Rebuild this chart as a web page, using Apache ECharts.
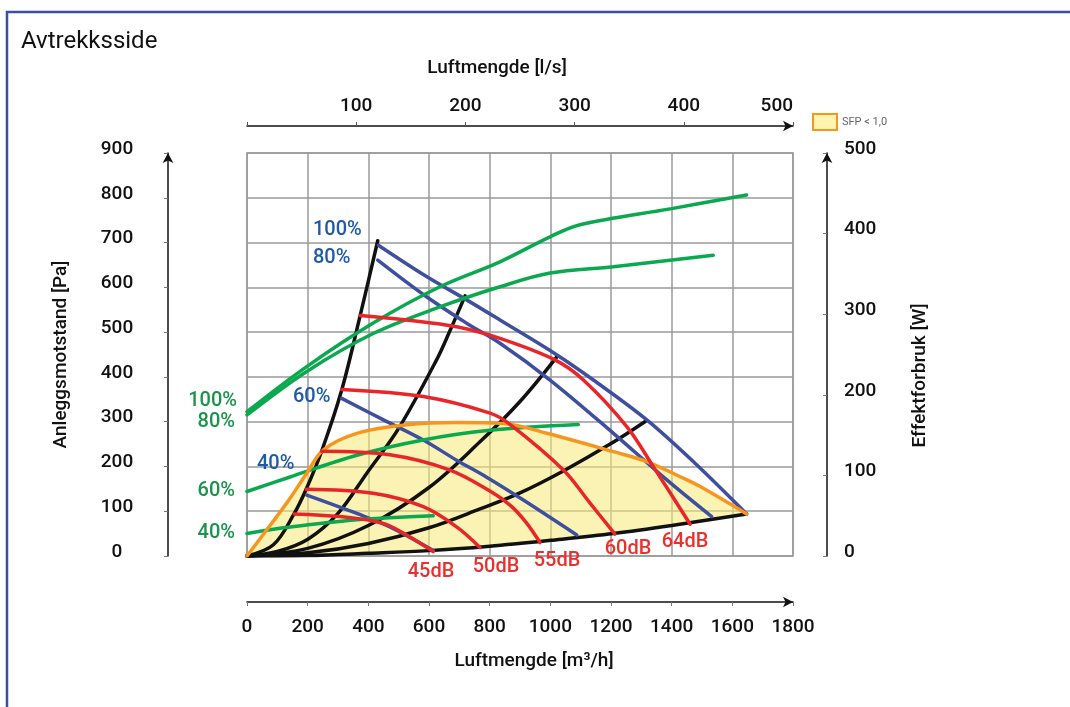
<!DOCTYPE html>
<html>
<head>
<meta charset="utf-8">
<script src="https://cdn.jsdelivr.net/npm/echarts@6/dist/echarts.min.js"></script>
<style>
html,body{margin:0;padding:0;background:#fff;}
#chart{width:1070px;height:707px;}
</style>
</head>
<body>
<div id="chart"></div>
<script>
// ---- Data (x = Luftmengde m³/h, y = Pa or W) ----
const flowTicksM3h = [0, 200, 400, 600, 800, 1000, 1200, 1400, 1600, 1800];
const flowTicksLs = [100, 200, 300, 400, 500];
const pressureTicks = [0, 100, 200, 300, 400, 500, 600, 700, 800, 900];
const powerTicks = [0, 100, 200, 300, 400, 500];

// system curves (black)
const curveA = [[0,0],[87,25],[155,94],[195,149],[246,234],[312,370],[373,537],[431,704]];
const curveB = [[0,0],[100,10],[202,38],[300,95],[395,185],[500,285],[625,438],[669,503],[719,581]];
const curveC = [[0,0],[200,17],[400,68],[600,153],[768,255],[900,345],[1024,447]];
const curveD = [[0,0],[200,7],[400,28],[600,63],[768,105],[900,141],[1043,190],[1200,251],[1314,301]];
const curveE = [[0,0],[200,1],[400,6],[600,12],[800,22],[1000,35],[1208,50],[1400,68],[1647,94]];

// fan curves (blue)
const fan100 = [[433,694],[592,624],[724,572],[834,527],[1022,449],[1142,393],[1318,304],[1471,211],[1647,94]];
const fan80 = [[431,661],[592,579],[724,520],[834,475],[999,393],[1208,274],[1384,170],[1532,88]];
const fan60 = [[312,352],[450,304],[581,259],[691,214],[790,176],[911,125],[1087,47]];
const fan40 = [[197,136],[362,95],[471,65],[614,12]];

// sound level curves (red)
const db64 = [[373,537],[526,527],[691,512],[834,486],[1015,438],[1109,393],[1252,289],[1340,199],[1461,71]];
const db60 = [[312,372],[581,356],[801,319],[867,294],[1043,192],[1131,118],[1213,49]];
const db55 = [[246,234],[471,226],[669,192],[801,145],[870,112],[920,75],[966,30]];
const db50 = [[195,149],[416,140],[581,110],[691,65],[768,19]];
const db45 = [[155,94],[307,88],[449,73],[526,47],[614,10]];

// power consumption (green, W on right axis)
const pw100 = [[0,179],[197,235],[416,289],[636,334],[834,365],[999,396],[1098,411],[1400,431],[1647,448]];
const pw80 = [[0,175],[197,229],[416,276],[636,309],[834,334],[999,351],[1208,359],[1537,373]];
const pw60 = [[0,80],[142,98],[362,125],[581,144],[801,156],[1092,163]];
const pw40 = [[0,28],[142,36],[362,45],[614,50]];

// SFP < 1,0 boundary (orange)
const sfpTop = [[0,0],[98,88],[142,129],[197,185],[252,237],[362,274],[527,293],[691,298],[845,296],[988,274],[1208,233],[1318,211],[1428,177],[1494,155],[1647,94]];

// ---- Styles ----
const FONT = 'Roboto';
const BLACK = '#111111';
const BLUE = '#3e4f9f';
const RED = '#e8262a';
const GREEN = '#0aa84f';
const ORANGE = '#f7961f';
const GRIDC = '#9a9a9a';
const FW = 500;

const sfpPolygon = sfpTop.concat(curveE.slice().reverse());

function lineSeries(name, data, color, yIdx, z) {
  return {
    name: name, type: 'line', data: data, xAxisIndex: 0, yAxisIndex: yIdx || 0,
    smooth: 0.35, showSymbol: false, symbol: 'none', silent: true, z: z || 3,
    lineStyle: { color: color, width: 3.5, cap: 'round' }
  };
}

const chart = echarts.init(document.getElementById('chart'), null, { renderer: 'canvas' });

function txt(text, x, y, color, align) {
  return {
    type: 'text', x: x, y: y, silent: true, z: 100,
    style: { text: text, fill: color, fontSize: 20, fontWeight: FW, fontFamily: FONT, align: align || 'left', verticalAlign: 'middle' }
  };
}

const labelBlue = '#1f5aa8';
const labelGreen = '#1b944c';
const labelRed = '#e8312f';

const option = {
  backgroundColor: '#ffffff',
  animation: false,
  title: {
    text: 'Avtrekksside', left: 21, top: 30, padding: 0,
    textStyle: { fontSize: 24, fontWeight: 'normal', fontFamily: FONT, color: BLACK }
  },
  legend: {
    left: 812, top: 113, padding: 0, itemWidth: 24, itemHeight: 16,
    selectedMode: false,
    textStyle: { fontSize: 11, color: '#666', fontFamily: FONT },
    data: [{ name: 'SFP < 1,0', icon: 'rect', itemStyle: { color: '#fff4b0', borderColor: ORANGE, borderWidth: 2 } }]
  },
  grid: {
    left: 247, top: 153, width: 546, height: 403,
    show: true, borderColor: GRIDC, borderWidth: 1.5, backgroundColor: 'transparent'
  },
  xAxis: [
    {
      type: 'value', gridIndex: 0, position: 'bottom', min: flowTicksM3h[0], max: flowTicksM3h[flowTicksM3h.length - 1], interval: 200,
      offset: 46,
      axisLine: { show: true, onZero: false, lineStyle: { color: BLACK, width: 1.5 }, symbol: ['none', 'arrow'], symbolSize: [8, 10] },
      axisTick: { show: true, length: 4, lineStyle: { color: '#777' } },
      axisLabel: { fontSize: 19, fontWeight: FW, color: BLACK, fontFamily: FONT, margin: 16, formatter: function (v) { return String(v); } },
      splitLine: { show: true, lineStyle: { color: GRIDC, width: 1.5 } },
      name: 'Luftmengde [m³/h]', nameLocation: 'middle', nameGap: 50,
      nameTextStyle: { fontSize: 19, fontWeight: FW, color: BLACK, fontFamily: FONT, padding: [0, 0, 0, 28] }
    },
    {
      type: 'value', gridIndex: 0, position: 'top', min: 0, max: flowTicksLs[flowTicksLs.length - 1], interval: 100,
      offset: 27,
      axisLine: { show: true, onZero: false, lineStyle: { color: BLACK, width: 1.5 }, symbol: ['none', 'arrow'], symbolSize: [8, 10] },
      axisTick: { show: true, length: 4, inside: false, lineStyle: { color: '#555' } },
      axisLabel: {
        fontSize: 19, fontWeight: FW, color: BLACK, fontFamily: FONT, margin: 10, alignMaxLabel: 'right',
        formatter: function (v) { return v === 0 ? '' : String(v); }
      },
      splitLine: { show: false },
      name: 'Luftmengde [l/s]', nameLocation: 'middle', nameGap: 48,
      nameTextStyle: { fontSize: 19, fontWeight: FW, color: BLACK, fontFamily: FONT, padding: [0, 46, 0, 0] }
    }
  ],
  yAxis: [
    {
      type: 'value', gridIndex: 0, position: 'left', min: pressureTicks[0], max: pressureTicks[pressureTicks.length - 1], interval: 100,
      offset: 79,
      axisLine: { show: true, onZero: false, lineStyle: { color: BLACK, width: 1.5 }, symbol: ['none', 'arrow'], symbolSize: [8, 10] },
      axisTick: { show: true, length: 4, lineStyle: { color: '#777' } },
      axisLabel: { fontSize: 19, fontWeight: FW, color: BLACK, fontFamily: FONT, margin: 51, align: 'center', verticalAlign: 'bottom', lineHeight: 8 },
      splitLine: { show: true, lineStyle: { color: GRIDC, width: 1.5 } },
      name: 'Anleggsmotstand [Pa]', nameLocation: 'middle', nameGap: 97, nameRotate: 90,
      nameTextStyle: { fontSize: 19, fontWeight: FW, color: BLACK, fontFamily: FONT }
    },
    {
      type: 'value', gridIndex: 0, position: 'right', min: powerTicks[0], max: powerTicks[powerTicks.length - 1], interval: 100,
      offset: 34,
      axisLine: { show: true, onZero: false, lineStyle: { color: BLACK, width: 1.5 }, symbol: ['none', 'arrow'], symbolSize: [8, 10] },
      axisTick: { show: true, length: 4, inside: true, lineStyle: { color: '#777' } },
      axisLabel: { fontSize: 19, fontWeight: FW, color: BLACK, fontFamily: FONT, margin: 17, verticalAlign: 'bottom', lineHeight: 8 },
      splitLine: { show: false },
      name: 'Effektforbruk [W]', nameLocation: 'middle', nameGap: 84, nameRotate: 90,
      nameTextStyle: { fontSize: 19, fontWeight: FW, color: BLACK, fontFamily: FONT, padding: [0, 42, 0, 0] }
    }
  ],
  graphic: [
    { type: 'rect', silent: true, z: 0, shape: { x: 7, y: 12, width: 1300, height: 1000 }, style: { fill: 'none', stroke: '#3b4ea3', lineWidth: 2.5 } },
    txt('100%', 313, 230, labelBlue), txt('80%', 313, 258, labelBlue),
    txt('60%', 293, 397, labelBlue), txt('40%', 257, 464, labelBlue),
    txt('100%', 237, 401, labelGreen, 'right'), txt('80%', 235, 422, labelGreen, 'right'),
    txt('60%', 235, 491, labelGreen, 'right'), txt('40%', 235, 533, labelGreen, 'right'),
    txt('45dB', 431, 572, labelRed, 'center'), txt('50dB', 496, 567, labelRed, 'center'),
    txt('55dB', 557, 561, labelRed, 'center'), txt('60dB', 628, 549, labelRed, 'center'),
    txt('64dB', 685, 542, labelRed, 'center')
  ],
  series: [
    {
      name: 'SFP < 1,0', type: 'custom', xAxisIndex: 0, yAxisIndex: 0, silent: true, z: 1,
      data: sfpPolygon, encode: { x: 0, y: 1 },
      itemStyle: { color: '#fff4b0', borderColor: ORANGE, borderWidth: 2 },
      renderItem: function (params, api) {
        if (params.dataIndex !== 0) return null;
        const pts = sfpPolygon.map(function (p) { return api.coord(p); });
        return { type: 'polygon', shape: { points: pts }, style: { fill: 'rgba(245,234,118,0.55)' } };
      }
    },
    lineSeries('A', curveA, BLACK, 0, 3),
    lineSeries('B', curveB, BLACK, 0, 3),
    lineSeries('C', curveC, BLACK, 0, 3),
    lineSeries('D', curveD, BLACK, 0, 3),
    lineSeries('E', curveE, BLACK, 0, 3),
    lineSeries('fan100', fan100, BLUE, 0, 4),
    lineSeries('fan80', fan80, BLUE, 0, 4),
    lineSeries('fan60', fan60, BLUE, 0, 4),
    lineSeries('fan40', fan40, BLUE, 0, 4),
    lineSeries('pw100', pw100, GREEN, 1, 5),
    lineSeries('pw80', pw80, GREEN, 1, 5),
    lineSeries('pw60', pw60, GREEN, 1, 5),
    lineSeries('pw40', pw40, GREEN, 1, 5),
    lineSeries('sfp', sfpTop, ORANGE, 0, 6),
    lineSeries('db64', db64, RED, 0, 7),
    lineSeries('db60', db60, RED, 0, 7),
    lineSeries('db55', db55, RED, 0, 7),
    lineSeries('db50', db50, RED, 0, 7),
    lineSeries('db45', db45, RED, 0, 7)
  ]
};
chart.setOption(option);
</script>
</body>
</html>
